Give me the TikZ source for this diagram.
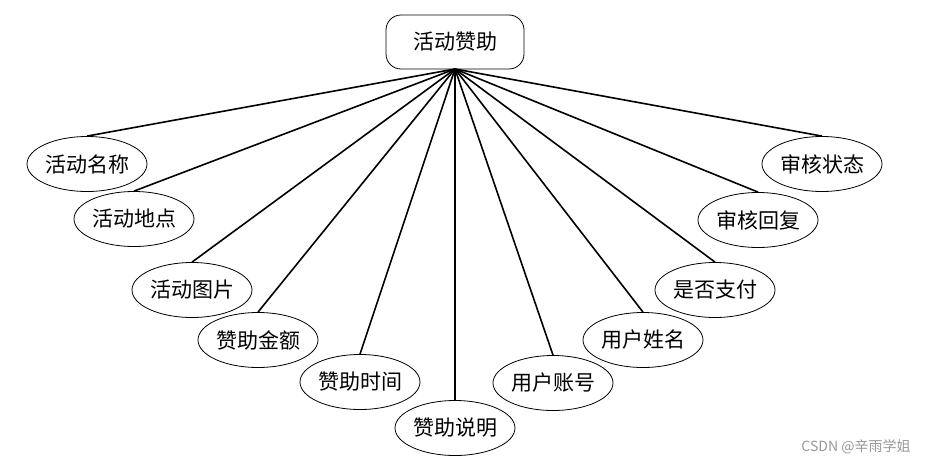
\documentclass[tikz,border=0pt]{standalone}
\usepackage{fontspec}
\newfontfamily\cjk{Noto Sans CJK SC}
\usetikzlibrary{shapes.geometric}
\tikzset{
  attrib/.style={draw,ellipse,line width=0.8pt,minimum width=120pt,minimum height=55pt,inner sep=0pt,font=\cjk\fontsize{21}{24}\selectfont},
  entity/.style={draw,rounded corners=15pt,line width=0.8pt,minimum width=138pt,minimum height=54pt,inner sep=0pt,font=\cjk\fontsize{21}{24}\selectfont},
  link/.style={line width=1.6pt}
}
\begin{document}
\begin{tikzpicture}[x=1pt,y=-1pt]
   \useasboundingbox[fill=white] (0,0) rectangle (942,466);
   \node[entity] (zz) at (455,42) {活动赞助};
   \coordinate (hub) at (455,69);

   \node[attrib] (mc) at (87,164) {活动名称};
   \node[attrib] (dd) at (134,219) {活动地点};
   \node[attrib] (tp) at (192,290) {活动图片};
   \node[attrib] (je) at (258,340) {赞助金额};
   \node[attrib] (sj) at (360,382) {赞助时间};
   \node[attrib] (sm) at (455,428) {赞助说明};
   \node[attrib] (zh) at (553,383) {用户账号};
   \node[attrib] (xm) at (643,340) {用户姓名};
   \node[attrib] (zf) at (715,290) {是否支付};
   \node[attrib] (hf) at (758,220) {审核回复};
   \node[attrib] (zt) at (822,164) {审核状态};

   \draw[link] (hub) -- (mc.north);
   \draw[link] (hub) -- (dd.north);
   \draw[link] (hub) -- (tp.north);
   \draw[link] (hub) -- (je.north);
   \draw[link] (hub) -- (sj.north);
   \draw[link] (hub) -- (sm.north);
   \draw[link] (hub) -- (zh.north);
   \draw[link] (hub) -- (xm.north);
   \draw[link] (hub) -- (zf.north);
   \draw[link] (hub) -- (hf.north);
   \draw[link] (hub) -- (zt.north);

   \node[text=black!40,font=\cjk\fontsize{14}{16}\selectfont] (wm) at (856,447) {CSDN @辛雨学姐};
 \end{tikzpicture}
\end{document}
